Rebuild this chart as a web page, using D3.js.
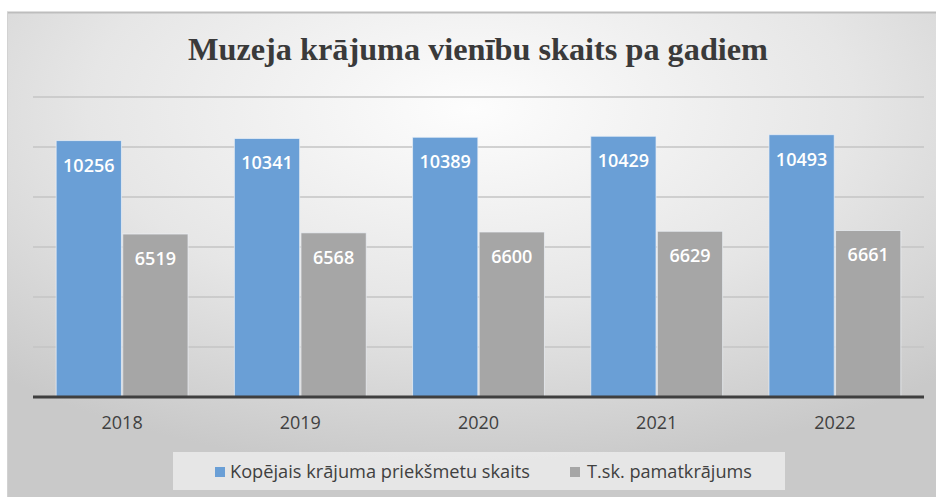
<!DOCTYPE html>
<html>
<head>
<meta charset="utf-8">
<script src="https://cdn.jsdelivr.net/npm/d3@7"></script>
<style>
  html, body { margin: 0; padding: 0; background: #fff; }
  svg { display: block; }
</style>
</head>
<body>
<div id="chart"></div>
<script>
(function () {
  'use strict';

  const years = ['2018', '2019', '2020', '2021', '2022'];
  const totalItems = [10256, 10341, 10389, 10429, 10493];
  const mainCollection = [6519, 6568, 6600, 6629, 6661];
  const seriesNames = ['Kopējais krājuma priekšmetu skaits', 'T.sk. pamatkrājums'];
  const seriesColors = ['#6a9fd6', '#a6a6a6'];
  const yTicks = [0, 2000, 4000, 6000, 8000, 10000, 12000];
  const title = 'Muzeja krājuma vienību skaits pa gadiem';

  const W = 936, H = 497;
  const plot = { left: 33, right: 924, top: 97, bottom: 397 };

  const svg = d3.select('#chart').append('svg')
    .attr('width', W).attr('height', H);

  const defs = svg.append('defs');
  const bg = defs.append('radialGradient')
    .attr('id', 'bg').attr('cx', '50%').attr('cy', '20%').attr('r', '75%');
  bg.append('stop').attr('offset', '0%').attr('stop-color', '#fdfdfd');
  bg.append('stop').attr('offset', '55%').attr('stop-color', '#e6e6e6');
  bg.append('stop').attr('offset', '100%').attr('stop-color', '#c9c9c9');

  // frame
  svg.append('rect').attr('x', 7).attr('y', 12).attr('width', W - 7).attr('height', H - 12)
    .attr('fill', 'url(#bg)');
  svg.append('line').attr('x1', 7).attr('x2', W).attr('y1', 12.5).attr('y2', 12.5)
    .attr('stroke', '#bdbdbd').attr('stroke-width', 2);
  svg.append('line').attr('x1', 7.5).attr('x2', 7.5).attr('y1', 12).attr('y2', H)
    .attr('stroke', '#d2d2d2').attr('stroke-width', 1);

  // title
  svg.append('text')
    .attr('x', 478).attr('y', 60)
    .attr('text-anchor', 'middle')
    .attr('font-family', '"Liberation Serif", "Times New Roman", serif')
    .attr('font-weight', 'bold')
    .attr('font-size', 32)
    .attr('textLength', 580).attr('lengthAdjust', 'spacingAndGlyphs')
    .attr('fill', '#3a3a3a')
    .text(title);

  const x0 = d3.scaleBand().domain(years)
    .range([plot.left, plot.right])
    .paddingInner(0.26).paddingOuter(0.13);
  const x1 = d3.scaleBand().domain([0, 1])
    .range([0, x0.bandwidth()]).paddingInner(0.02);
  const y = d3.scaleLinear().domain([0, 12000]).range([plot.bottom, plot.top]);

  // gridlines
  svg.append('g')
    .selectAll('line')
    .data(yTicks.filter((d) => d > 0))
    .enter().append('line')
    .attr('x1', plot.left).attr('x2', plot.right)
    .attr('y1', (d) => y(d)).attr('y2', (d) => y(d))
    .attr('stroke', '#c4c4c4').attr('stroke-width', 1.5);

  const series = [totalItems, mainCollection];
  const groups = svg.append('g').selectAll('g')
    .data(years)
    .enter().append('g')
    .attr('transform', (d) => `translate(${x0(d)},0)`);

  groups.selectAll('rect')
    .data((d, i) => series.map((s, k) => ({ k, v: s[i] })))
    .enter().append('rect')
    .attr('x', (d) => x1(d.k))
    .attr('y', (d) => y(d.v))
    .attr('width', x1.bandwidth())
    .attr('height', (d) => y(0) - y(d.v))
    .attr('fill', (d) => seriesColors[d.k])
    .attr('stroke', '#eef2f8').attr('stroke-width', 1).attr('stroke-opacity', 0.7);

  groups.selectAll('text')
    .data((d, i) => series.map((s, k) => ({ k, v: s[i] })))
    .enter().append('text')
    .attr('x', (d) => x1(d.k) + x1.bandwidth() / 2)
    .attr('y', (d) => y(d.v) + 31)
    .attr('text-anchor', 'middle')
    .attr('font-family', '"Open Sans", sans-serif')
    .attr('font-weight', 600)
    .attr('font-size', 18)
    .attr('fill', '#ffffff')
    .text((d) => d.v);

  // x axis
  const xAxis = svg.append('g')
    .attr('transform', `translate(0,${plot.bottom})`)
    .call(d3.axisBottom(x0).tickSize(0).tickPadding(19));
  xAxis.select('.domain').remove();
  xAxis.selectAll('text')
    .attr('font-family', '"Open Sans", sans-serif')
    .attr('font-size', 18)
    .attr('fill', '#404040');

  svg.append('line')
    .attr('x1', plot.left).attr('x2', plot.right)
    .attr('y1', plot.bottom).attr('y2', plot.bottom)
    .attr('stroke', '#3f3f3f').attr('stroke-width', 3);

  // legend
  svg.append('rect')
    .attr('x', 173).attr('y', 452).attr('width', 612).attr('height', 38)
    .attr('fill', '#ebebeb').attr('opacity', 0.85);

  const legendX = [215, 570];
  const legendLen = [300, 165];
  const legend = svg.append('g').selectAll('g')
    .data(seriesNames)
    .enter().append('g')
    .attr('transform', (d, i) => `translate(${legendX[i]},467)`);
  legend.append('rect')
    .attr('width', 10).attr('height', 10)
    .attr('fill', (d, i) => seriesColors[i]);
  legend.append('text')
    .attr('x', (d, i) => (i === 0 ? 15 : 17)).attr('y', 11)
    .attr('font-family', '"Open Sans", sans-serif')
    .attr('font-size', 18)
    .attr('textLength', (d, i) => legendLen[i]).attr('lengthAdjust', 'spacingAndGlyphs')
    .attr('fill', '#404040')
    .text((d) => d);
})();
</script>
</body>
</html>
